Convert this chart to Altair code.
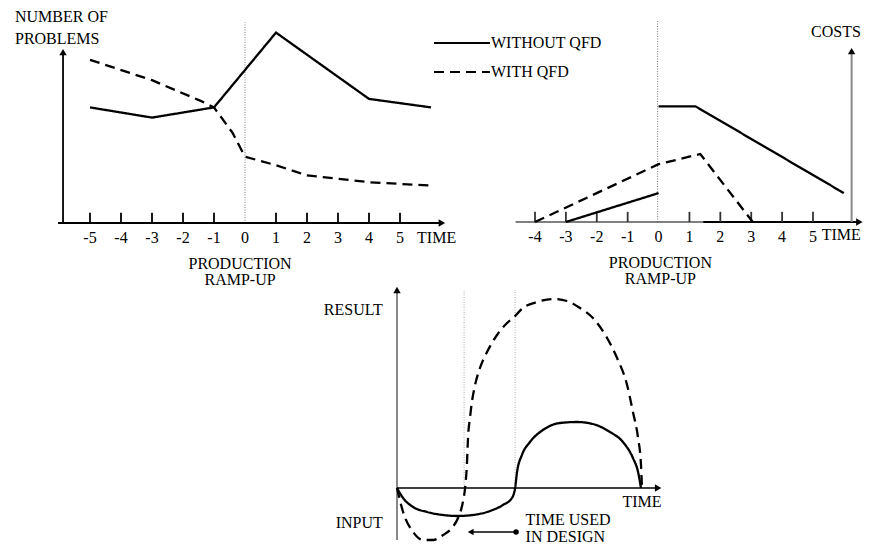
import altair as alt
import pandas as pd

FONT = "Liberation Serif, DejaVu Serif, Times New Roman, serif"
FS = 16
SERIES = ["WITHOUT QFD", "WITH QFD"]

# ---------------- Panel 1: number of problems ----------------
p1_t_without = [-5, -3, -1, 1, 4, 6]
p1_v_without = [6.8, 6.2, 6.8, 11.2, 7.3, 6.8]
p1_t_with = [-5, -3, -1.45, -1, -0.4, 0, 1, 2, 3, 4, 6]
p1_v_with = [9.6, 8.4, 7.2, 6.8, 5.3, 3.9, 3.4, 2.8, 2.6, 2.4, 2.2]
p1_tick_labels = [-5, -4, -3, -2, -1, 0, 1, 2, 3, 4, 5]
p1_tick_marks = [-5, -4, -3, -2, -1, 1, 2, 3, 4, 5]

# ---------------- Panel 2: costs ----------------
p2_t_without_a = [-3, 0]
p2_v_without_a = [0, 1.7]
p2_t_without_b = [0, 1.2, 6]
p2_v_without_b = [6.8, 6.8, 1.7]
p2_t_with = [-4, 0, 1.35, 3.05]
p2_v_with = [0, 3.4, 4.0, 0]
p2_tick_labels = [-4, -3, -2, -1, 0, 1, 2, 3, 4, 5]
p2_tick_marks = [-4, -3, -2, -1, 1, 2, 3, 4, 5]

# ---------------- Panel 3: result / input over time ----------------
p3_t_without = [0, 0.25, 0.66, 1.23, 1.89, 2.46, 3.11, 3.81, 4.34, 4.71, 4.84,
                4.92, 5.12, 5.45, 5.98, 6.68, 7.38, 8.03, 8.73, 9.26, 9.67, 9.88, 10]
p3_v_without = [0, -0.5, -0.95, -1.2, -1.35, -1.4, -1.35, -1.15, -0.85, -0.5, 0,
                0.8, 1.65, 2.3, 2.9, 3.25, 3.3, 3.2, 2.8, 2.3, 1.5, 0.8, 0]
p3_t_with = [0, 0.25, 0.66, 1.07, 1.48, 1.89, 2.25, 2.5, 2.7, 2.79, 2.87, 2.91, 2.99,
             3.07, 3.2, 3.4, 3.69, 4.1, 4.51, 4.8, 5.16, 5.74, 6.39, 6.97, 7.5, 8.03,
             8.61, 9.02, 9.43, 9.67, 9.88, 10, 10.04]
p3_v_with = [0, -1.2, -2.2, -2.6, -2.6, -2.35, -2.0, -1.5, -0.7, 0, 1.3, 2.5, 3.5,
             4.3, 5.15, 6.0, 6.8, 7.65, 8.25, 8.55, 9.0, 9.3, 9.45, 9.35, 9.0, 8.5,
             7.5, 6.5, 5.15, 3.8, 2.5, 1.15, 0]
p3_design_time = [2.75, 4.84]

# ---------------- scales (data units -> page positions) ----------------
S1X = alt.Scale(domain=[-5, 5], range=[82, 392], nice=False, zero=False)
S1Y = alt.Scale(domain=[0, 10], range=[215, 45], nice=False, zero=False)
S2X = alt.Scale(domain=[-4, 5], range=[527, 805], nice=False, zero=False)
S2Y = alt.Scale(domain=[0, 10], range=[214, 44], nice=False, zero=False)
S3X = alt.Scale(domain=[0, 10], range=[389, 633], nice=False, zero=False)
S3Y = alt.Scale(domain=[0, 10], range=[480, 280], nice=False, zero=False)

DASH = alt.Scale(domain=SERIES, range=[[1, 0], [10, 6]])


def X(sx, f="t"):
    return alt.X(f"{f}:Q", scale=sx, axis=None)


def Y(sy, f="v"):
    return alt.Y(f"{f}:Q", scale=sy, axis=None)


def series_df(pairs):
    rows = []
    for name, seg, ts, vs in pairs:
        for i, (t, v) in enumerate(zip(ts, vs)):
            rows.append({"series": name, "seg": seg, "t": t, "v": v, "o": i})
    return pd.DataFrame(rows)


def lines(df, sx, sy, legend=None, interp="linear"):
    return alt.Chart(df).mark_line(color="black", strokeWidth=2.3, interpolate=interp).encode(
        x=X(sx), y=Y(sy),
        strokeDash=alt.StrokeDash("series:N", scale=DASH, legend=legend),
        detail="seg:N", order="o:Q",
    )


def rules(rows, sx, sy, color="black", width=1.5, dash=None):
    df = pd.DataFrame(rows, columns=["t", "t2", "v", "v2"])
    kw = dict(color=color, strokeWidth=width)
    if dash:
        kw["strokeDash"] = dash
    return alt.Chart(df).mark_rule(**kw).encode(
        x=X(sx), x2="t2:Q", y=Y(sy), y2="v2:Q")


def texts(rows, sx, sy, size=FS, align="center"):
    df = pd.DataFrame(rows, columns=["t", "v", "label"])
    return alt.Chart(df).mark_text(font=FONT, fontSize=size, align=align, baseline="middle",
                                   color="black").encode(x=X(sx), y=Y(sy), text="label:N")


def heads(rows, sx, sy, shape, size=55):
    df = pd.DataFrame(rows, columns=["t", "v"])
    return alt.Chart(df).mark_point(shape=shape, filled=True, size=size, color="black",
                                    opacity=1).encode(x=X(sx), y=Y(sy))


# ---------------- Panel 1 ----------------
legend = alt.Legend(orient="none", legendX=425, legendY=27, title=None, symbolType="stroke",
                    symbolSize=3136, symbolStrokeWidth=2, symbolStrokeColor="black",
                    labelFont=FONT, labelFontSize=FS, labelColor="black", labelOffset=0,
                    clipHeight=16, rowPadding=13, padding=0)
p1 = alt.layer(
    rules([[0, 0, 0, 11.8]], S1X, S1Y, color="#777", width=1, dash=[1, 1.5]),
    rules([[-6.03, 6.35, 0, 0], [-5.87, -5.87, 0, 10.0]], S1X, S1Y, width=1.8),
    rules([[t, t, 0, 0.6] for t in p1_tick_marks], S1X, S1Y, width=1.8),
    heads([[6.35, 0]], S1X, S1Y, "triangle-right"),
    heads([[-5.87, 10.05]], S1X, S1Y, "triangle-up"),
    lines(series_df([(SERIES[0], "a", p1_t_without, p1_v_without),
                     (SERIES[1], "b", p1_t_with, p1_v_with)]), S1X, S1Y, legend=legend),
    texts([[t, -0.9, str(t)] for t in p1_tick_labels], S1X, S1Y),
    texts([[5.55, -0.9, "TIME"]], S1X, S1Y, align="left"),
    texts([[-0.16, -2.42, "PRODUCTION"], [-0.16, -3.38, "RAMP-UP"]], S1X, S1Y),
    texts([[-7.42, 12.1, "NUMBER OF"], [-7.42, 10.8, "PROBLEMS"]], S1X, S1Y, align="left"),
)

# ---------------- Panel 2 ----------------
p2 = alt.layer(
    rules([[-0.03, -0.03, 0, 11.9]], S2X, S2Y, color="#777", width=1, dash=[1, 1.5]),
    rules([[-4.63, 6.5, 0, 0]], S2X, S2Y, color="#555", width=1.5),
    rules([[1.45, 6.5, 0, 0]], S2X, S2Y, color="black", width=2),
    rules([[6.25, 6.25, 0, 10.0]], S2X, S2Y, color="#888", width=2),
    rules([[t, t, 0, 0.6] for t in p2_tick_marks], S2X, S2Y, color="#333", width=1.8),
    heads([[6.5, 0]], S2X, S2Y, "triangle-right"),
    heads([[6.25, 10.05]], S2X, S2Y, "triangle-up"),
    lines(series_df([(SERIES[0], "a", p2_t_without_a, p2_v_without_a),
                     (SERIES[0], "b", p2_t_without_b, p2_v_without_b),
                     (SERIES[1], "c", p2_t_with, p2_v_with)]), S2X, S2Y),
    texts([[t, -0.9, str(t)] for t in p2_tick_labels], S2X, S2Y),
    texts([[6.55, -0.75, "TIME"]], S2X, S2Y, align="right"),
    texts([[0.06, -2.42, "PRODUCTION"], [0.06, -3.35, "RAMP-UP"]], S2X, S2Y),
    texts([[6.55, 11.2, "COSTS"]], S2X, S2Y, align="right"),
)

# ---------------- Panel 3 ----------------
p3 = alt.layer(
    rules([[d, d, 0, 9.9] for d in p3_design_time], S3X, S3Y, color="#aaa", width=1,
          dash=[1, 1.5]),
    rules([[0, 0, -2.6, 9.8]], S3X, S3Y, color="#888", width=2),
    rules([[0, 10.7, 0, 0]], S3X, S3Y, color="black", width=1.5),
    heads([[10.7, 0]], S3X, S3Y, "triangle-right"),
    heads([[0, 9.9]], S3X, S3Y, "triangle-up"),
    lines(series_df([(SERIES[0], "a", p3_t_without, p3_v_without),
                     (SERIES[1], "b", p3_t_with, p3_v_with)]), S3X, S3Y, interp="monotone"),
    rules([[3.0, 4.88, -2.2, -2.2]], S3X, S3Y, color="black", width=1.5),
    heads([[3.02, -2.2]], S3X, S3Y, "triangle-left", size=45),
    heads([[4.88, -2.2]], S3X, S3Y, "circle", size=30),
    texts([[-0.58, 8.9, "RESULT"], [-0.58, -1.75, "INPUT"]], S3X, S3Y, align="right"),
    texts([[10.04, -0.7, "TIME"]], S3X, S3Y),
    texts([[5.27, -1.6, "TIME USED"], [5.27, -2.47, "IN DESIGN"]], S3X, S3Y, align="left"),
)

chart = alt.layer(p1, p2, p3).resolve_scale(
    x="independent", y="independent", strokeDash="independent"
).resolve_legend(strokeDash="independent").properties(
    width=855, height=536, padding=0, autosize=alt.AutoSizeParams(type="none")
).configure_view(stroke=None)

chart.save("out.html", embed_options={"renderer": "svg", "actions": False})
